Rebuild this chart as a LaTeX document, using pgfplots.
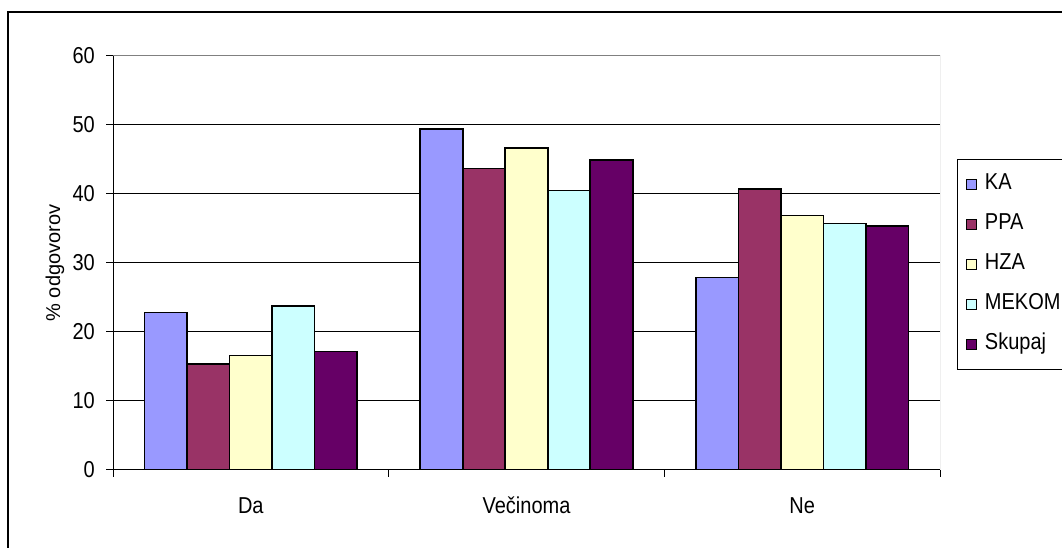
\documentclass[border=0pt]{standalone}
\usepackage{fontspec}
\setmainfont{Liberation Sans}
\usepackage{pgfplots}
\pgfplotsset{compat=1.18}
\definecolor{cKA}{HTML}{9999FF}
\definecolor{cPPA}{HTML}{993366}
\definecolor{cHZA}{HTML}{FFFFCC}
\definecolor{cMEK}{HTML}{CCFFFF}
\definecolor{cSK}{HTML}{660066}
\newcommand{\chartfont}{\fontsize{20}{24}\selectfont}
\newcommand{\st}[1]{\scalebox{1}[1.15]{#1}}
\begin{document}
\begin{tikzpicture}
\useasboundingbox (0pt,0pt) rectangle (1062pt,548pt);
\draw[line width=2pt] (8pt,-20pt) rectangle (1090pt,536pt);
\begin{axis}[
  at={(113pt,78pt)}, anchor=south west,
  scale only axis, width=827pt, height=414pt,
  xmin=-0.5, xmax=2.5, ymin=0, ymax=60,
  axis lines=left, axis line style={-, line width=1pt, black},
  /pgf/number format/assume math mode=true,
  ytick={0,10,...,60},
  yticklabel={\st{\pgfmathprintnumber{\tick}}},
  ymajorgrids, major grid style={black, line width=1pt},
  tick align=outside, major tick length=7pt,
  tick style={black, line width=1pt},
  xtick={-0.5,0.5,1.5,2.5}, xticklabels={,,,},
  extra x ticks={0,1,2}, extra x tick labels={\st{Da},\st{Večinoma},\st{Ne}},
  extra x tick style={major tick length=0pt, xticklabel style={yshift=-24.5pt}},
  xticklabel style={text height=15pt, text depth=5pt},
  tick label style={font=\chartfont},
  yticklabel style={inner xsep=11pt},
  label style={font=\chartfont},
  ylabel={\% odgovorov},
  ylabel style={at={(axis description cs:-0.0701,0.5)}, anchor=center},
  ybar=0pt, bar width=42.5pt,
  legend style={at={(axis description cs:1.0206,0.7512)}, anchor=north west,
    draw=black, line width=1pt, font=\chartfont, inner xsep=8pt, inner ysep=15pt,
    row sep=20pt, column sep=8pt,
    nodes={inner sep=0pt, text height=15pt, text depth=5pt}},
  legend cell align=left,
  legend image code/.code={\draw[#1, line width=1.4pt] (0pt,-5pt) rectangle (10pt,5pt);},
]
\addplot[fill=cKA, draw=black, line width=1.6pt] coordinates {(0,22.8) (1,49.4) (2,27.9)};
\addplot[fill=cPPA, draw=black, line width=1.6pt] coordinates {(0,15.4) (1,43.7) (2,40.7)};
\addplot[fill=cHZA, draw=black, line width=1.6pt] coordinates {(0,16.6) (1,46.7) (2,36.9)};
\addplot[fill=cMEK, draw=black, line width=1.6pt] coordinates {(0,23.8) (1,40.5) (2,35.7)};
\addplot[fill=cSK, draw=black, line width=1.6pt] coordinates {(0,17.2) (1,44.9) (2,35.4)};
\legend{\st{KA},\st{PPA},\st{HZA},\st{MEKOM}\hspace*{30pt},\st{Skupaj}}
\draw[gray, line width=1pt] (rel axis cs:0,1) -- (rel axis cs:1,1) -- (rel axis cs:1,0);
\end{axis}
\end{tikzpicture}
\end{document}
